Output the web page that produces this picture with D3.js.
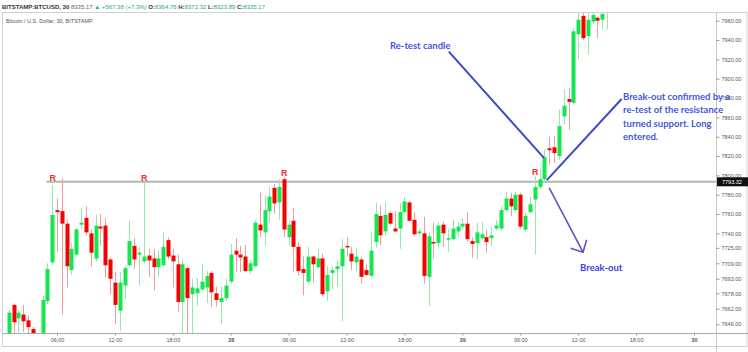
<!DOCTYPE html>
<html>
<head>
<meta charset="utf-8">
<script src="https://cdn.jsdelivr.net/npm/d3@7"></script>
<style>
  body { margin: 0; background: #fff; }
  svg { display: block; font-family: "Liberation Sans", Arial, sans-serif; }
</style>
</head>
<body>
<div id="chart"></div>
<script>
// 30 minute candles, first one opens 27th 01:00
const startTime = new Date(2018, 0, 27, 1, 0);
const opens  = [7630,7666,7652,7656,7650,7641,7625,7630,7670,7710,7764,7763,7750,7702,7718,7749,7756,7740,7714,7747,
                7748,7713,7689,7660,7686,7707,7727,7718,7711,7717,7714,7705,7707,7733,7717,7708,7669,7704,7677,7678,
                7682,7684,7699,7678,7669,7673,7690,7722,7718,7716,7701,7706,7749,7741,7763,7787,7772,7796,7736,7753,
                7726,7703,7690,7716,7705,7714,7680,7699,7703,7706,7727,7719,7710,7713,7702,7696,7731,7758,7742,7761,
                7745,7745,7762,7772,7754,7740,7740,7695,7731,7730,7749,7734,7734,7742,7747,7750,7732,7730,7735,7736,
                7735,7745,7745,7764,7776,7764,7780,7744,7762,7775,7788,7796,7828,7829,7820,7861,7879,7875,7946,7965,
                7944,7959,7963,7961,7972];
const highs  = [7661,7667,7661,7666,7655,7643,7635,7675,7709,7790,7776,7797,7754,7730,7746,7766,7768,7744,7759,7760,
                7756,7715,7700,7700,7707,7753,7735,7726,7792,7724,7724,7722,7741,7736,7724,7718,7713,7706,7693,7694,
                7709,7701,7701,7685,7685,7693,7729,7735,7727,7728,7713,7754,7782,7779,7788,7791,7796,7798,7754,7766,
                7731,7716,7726,7717,7724,7719,7706,7706,7713,7734,7736,7726,7725,7716,7708,7741,7772,7769,7772,7763,
                7763,7772,7777,7773,7762,7745,7757,7741,7751,7752,7752,7744,7754,7752,7756,7762,7736,7751,7752,7744,
                7747,7754,7768,7783,7782,7783,7782,7762,7778,7799,7807,7827,7840,7841,7868,7889,7890,7953,7968,7972,
                7968,7972,7964,7972,7985];
const lows   = [7624,7636,7636,7638,7630,7625,7610,7625,7667,7707,7721,7656,7684,7697,7715,7744,7738,7706,7711,7727,
                7694,7677,7646,7639,7672,7705,7703,7686,7709,7695,7681,7695,7705,7713,7684,7659,7630,7630,7630,7665,
                7680,7668,7664,7664,7646,7670,7688,7700,7700,7700,7698,7705,7736,7727,7752,7760,7754,7736,7727,7700,
                7696,7676,7687,7689,7703,7675,7670,7682,7685,7649,7716,7702,7701,7688,7695,7694,7725,7728,7737,7748,
                7741,7724,7760,7752,7737,7738,7688,7665,7714,7724,7726,7721,7733,7736,7744,7731,7715,7713,7733,7720,
                7727,7743,7743,7762,7758,7762,7745,7742,7760,7718,7786,7795,7811,7813,7816,7853,7847,7873,7920,7940,
                7925,7957,7942,7951,7951];
const closes = [7658,7648,7658,7649,7643,7632,7632,7671,7703,7759,7762,7750,7706,7724,7744,7751,7741,7720,7748,7745,
                7707,7693,7666,7689,7704,7732,7713,7720,7716,7712,7705,7714,7726,7716,7711,7669,7708,7673,7684,7683,
                7690,7696,7679,7671,7673,7686,7718,7718,7715,7701,7709,7751,7743,7764,7778,7771,7788,7744,7749,7726,
                7701,7699,7716,7708,7714,7677,7697,7702,7706,7724,7726,7711,7716,7695,7697,7722,7760,7738,7759,7750,
                7742,7762,7773,7753,7739,7742,7696,7737,7730,7748,7740,7735,7745,7747,7750,7734,7729,7741,7739,7731,
                7738,7748,7764,7776,7768,7780,7747,7758,7770,7788,7796,7819,7826,7823,7851,7872,7876,7949,7961,7942,
                7961,7966,7960,7967,7980];

const resistance = 7793.32;
const resistanceStart = new Date(2018, 0, 27, 5, 0);
const rMarks = [9, 28, 57, 109];          // candle indexes carrying an "R"
const yTicks = [7960, 7940, 7920, 7900, 7880, 7860, 7840, 7820, 7800, 7780, 7760, 7740, 7725, 7709, 7693, 7678, 7662, 7646];
const xTicks = d3.timeHour.range(new Date(2018, 0, 27, 6), new Date(2018, 0, 30, 1), 6);

const headerParts = [
  {t: 'BITSTAMP:BTCUSD, 30 ', c: '#333', w: 'bold'},
  {t: '8335.17 ', c: '#666', w: 'normal'},
  {t: '\u25B2 +567.38 (+7.3%) ', c: '#26a69a', w: 'normal'},
  {t: 'O:', c: '#333', w: 'bold'}, {t: '8364.76 ', c: '#26a69a', w: 'normal'},
  {t: 'H:', c: '#333', w: 'bold'}, {t: '8372.32 ', c: '#26a69a', w: 'normal'},
  {t: 'L:', c: '#333', w: 'bold'}, {t: '8323.89 ', c: '#26a69a', w: 'normal'},
  {t: 'C:', c: '#333', w: 'bold'}, {t: '8335.17', c: '#26a69a', w: 'normal'}
];

const W = 748, H = 352;
const pane = {left: 2.5, top: 12.5, right: 716.5, bottom: 333.5, axisBottom: 346.5};

const candles = opens.map((o, i) => ({
  t: new Date(+startTime + i * 30 * 60000), o, h: highs[i], l: lows[i], c: closes[i]
}));

const svg = d3.select('#chart').append('svg').attr('width', W).attr('height', H);

const x = d3.scaleTime()
    .domain([new Date(2018, 0, 27, 6), new Date(2018, 0, 30, 0)])
    .range([57, 694]);
const y = d3.scaleLinear().domain([7646, 7960]).range([324.2, 20.7]);

// header
const head = svg.append('text').attr('x', 2).attr('y', 8.5).attr('font-size', 6);
headerParts.forEach(p => head.append('tspan').attr('fill', p.c).attr('font-weight', p.w).text(p.t));

// pane frame
svg.append('rect')
    .attr('x', pane.left).attr('y', pane.top)
    .attr('width', W - 1 - pane.left).attr('height', pane.axisBottom - pane.top)
    .attr('fill', 'none').attr('stroke', '#d0d0d0');
svg.append('line')
    .attr('x1', pane.right).attr('x2', pane.right).attr('y1', pane.top).attr('y2', H)
    .attr('stroke', '#c8c8c8');
svg.append('line')
    .attr('x1', pane.left).attr('x2', W).attr('y1', pane.bottom).attr('y2', pane.bottom)
    .attr('stroke', '#aaa');

svg.append('text')
    .attr('x', 6).attr('y', 22.5)
    .attr('font-size', 5.5).attr('fill', '#555')
    .text('Bitcoin / U.S. Dollar, 30, BITSTAMP');

svg.append('clipPath').attr('id', 'clip')
  .append('rect')
    .attr('x', pane.left).attr('y', pane.top + 0.5)
    .attr('width', pane.right - pane.left).attr('height', pane.bottom - pane.top - 1);

const plot = svg.append('g').attr('clip-path', 'url(#clip)');

// resistance line
plot.append('line')
    .attr('x1', x(resistanceStart) - 1).attr('x2', pane.right)
    .attr('y1', y(resistance)).attr('y2', y(resistance))
    .attr('stroke', '#b4b4b4').attr('stroke-width', 2);

// candles
const cg = plot.selectAll('g.candle').data(candles).join('g').attr('class', 'candle');
cg.append('line')
    .attr('x1', d => Math.round(x(d.t)) + 0.5).attr('x2', d => Math.round(x(d.t)) + 0.5)
    .attr('y1', d => y(d.h)).attr('y2', d => y(d.l))
    .attr('stroke', d => d.c >= d.o ? '#92eaa8' : '#f59a9a');
cg.append('rect')
    .attr('x', d => Math.round(x(d.t)) - 1.5)
    .attr('width', 4)
    .attr('y', d => y(Math.max(d.o, d.c)))
    .attr('height', d => Math.max(1.5, Math.abs(y(d.o) - y(d.c))))
    .attr('fill', d => d.c >= d.o ? '#14e650' : '#f80000');

// R marks
svg.selectAll('text.rmark').data(rMarks).join('text')
    .attr('class', 'rmark')
    .attr('x', i => x(candles[i].t) + 0.5)
    .attr('y', i => Math.min(y(resistance), y(candles[i].h)) - 1)
    .attr('text-anchor', 'middle')
    .attr('font-size', 9).attr('font-weight', 'bold')
    .attr('fill', '#f03030')
    .text('R');

// axes
const yAxis = svg.append('g')
    .attr('transform', `translate(${pane.right},0)`)
    .call(d3.axisRight(y).tickValues(yTicks).tickFormat(d3.format('.2f')).tickSize(3).tickPadding(2));
yAxis.select('.domain').remove();
yAxis.selectAll('line').attr('stroke', '#999');
yAxis.selectAll('text').attr('font-size', 5.5).attr('fill', '#555')
    .attr('font-family', '"Liberation Sans", Arial, sans-serif');

const xAxis = svg.append('g')
    .attr('transform', `translate(0,${pane.bottom})`)
    .call(d3.axisBottom(x).tickValues(xTicks).tickSize(2).tickPadding(3)
      .tickFormat(d => d.getHours() === 0 ? d3.timeFormat('%-d')(d) : d3.timeFormat('%H:%M')(d)));
xAxis.select('.domain').remove();
xAxis.selectAll('line').attr('stroke', '#999');
xAxis.selectAll('text').attr('font-size', 5.5).attr('fill', '#555')
    .attr('font-family', '"Liberation Sans", Arial, sans-serif')
    .attr('font-weight', d => d.getHours() === 0 ? 'bold' : 'normal');

// last resistance price label
const lbl = svg.append('g').attr('transform', `translate(${pane.right + 0.5},${y(resistance)})`);
lbl.append('rect').attr('x', 0).attr('y', -4.5).attr('width', W - pane.right).attr('height', 9).attr('fill', '#111');
lbl.append('text').attr('x', 5).attr('y', 2).attr('font-size', 5.5).attr('fill', '#fff')
    .text(d3.format('.2f')(resistance));

// annotations
const blue = '#3c4bc4';
const retestLine = [[new Date(2018, 0, 28, 22, 36), 7928], [new Date(2018, 0, 29, 8, 27), 7818]];
const confirmLine = [[new Date(2018, 0, 29, 8, 45), 7795], [new Date(2018, 0, 29, 16, 30), 7879]];
const breakArrow = [[new Date(2018, 0, 29, 9, 0), 7787], [new Date(2018, 0, 29, 12, 30), 7720.5]];

[retestLine, confirmLine].forEach(l => {
  svg.append('line')
      .attr('x1', x(l[0][0])).attr('y1', y(l[0][1]))
      .attr('x2', x(l[1][0])).attr('y2', y(l[1][1]))
      .attr('stroke', blue).attr('stroke-width', 2);
});

const ax0 = x(breakArrow[0][0]), ay0 = y(breakArrow[0][1]);
const ax1 = x(breakArrow[1][0]), ay1 = y(breakArrow[1][1]);
const back = Math.atan2(ay0 - ay1, ax0 - ax1);
const wing = a => [ax1 + 13 * Math.cos(back + a), ay1 + 13 * Math.sin(back + a)];
svg.append('path')
    .attr('d', `M${ax0},${ay0}L${ax1},${ay1}M${wing(0.77)}L${ax1},${ay1}L${wing(-0.77)}`)
    .attr('fill', 'none').attr('stroke', '#6b4fc6').attr('stroke-width', 1.6);

const annoFont = 'Lato, "Open Sans", sans-serif';
svg.append('text')
    .attr('x', x(new Date(2018, 0, 28, 16, 30))).attr('y', y(7931))
    .attr('font-family', annoFont).attr('font-size', 9.5).attr('font-weight', 'bold')
    .attr('fill', '#4458d8')
    .text('Re-test candle');

const noteLines = ['Break-out confirmed by a', 're-test of the resistance', 'turned support. Long', 'entered.'];
svg.append('text')
    .attr('font-family', annoFont).attr('font-size', 9.5).attr('font-weight', 'bold')
    .attr('fill', '#4458d8')
    .selectAll('tspan').data(noteLines).join('tspan')
    .attr('x', x(new Date(2018, 0, 29, 16, 39)))
    .attr('y', (d, i) => y(7878) + i * 13.5)
    .text(d => d);

svg.append('text')
    .attr('x', x(new Date(2018, 0, 29, 12, 12))).attr('y', y(7701))
    .attr('font-family', annoFont).attr('font-size', 9.5).attr('font-weight', 'bold')
    .attr('fill', '#3d3de0')
    .text('Break-out');
</script>
</body>
</html>
